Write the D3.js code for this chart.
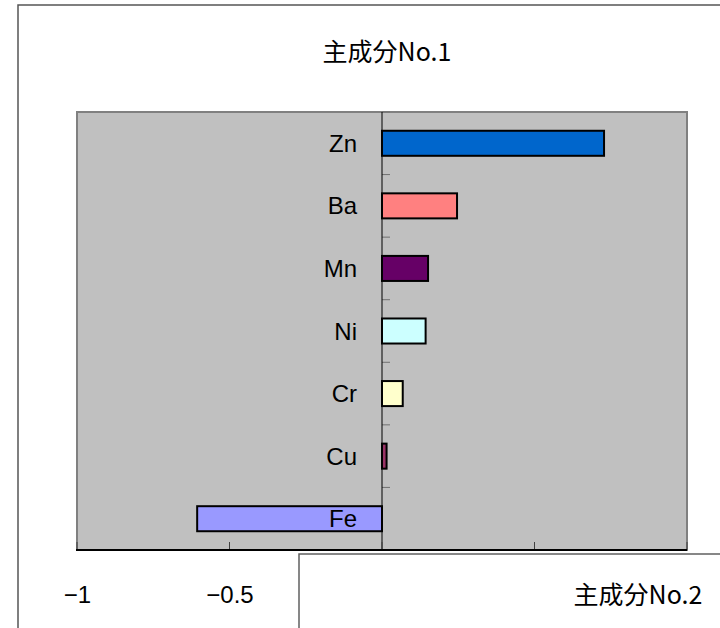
<!DOCTYPE html>
<html>
<head>
<meta charset="utf-8">
<script src="https://cdn.jsdelivr.net/npm/d3@7"></script>
<style>
  html, body { margin: 0; padding: 0; background: #ffffff; }
  svg { display: block; }
</style>
</head>
<body>
<div id="chart"></div>
<script>
// Principal component loadings per element
const elements = ["Zn", "Ba", "Mn", "Ni", "Cr", "Cu", "Fe"];
const loadings = [0.728, 0.246, 0.151, 0.143, 0.068, 0.015, -0.606];
const barColors = ["#0066CC", "#FF8080", "#660066", "#CCFFFF", "#FFFFCC", "#993366", "#9999FF"];
const xTicks = [-1, -0.5, 0, 0.5, 1];
const xTickLabels = ["\u22121", "\u22120.5", "0", "0.5", "1"];
const titleText = "主成分No.1";
const nextTitleText = "主成分No.2";

const W = 720, H = 628;
const plot = { left: 77, right: 687, top: 112, bottom: 550 };
// Neighbouring chart frame that covers the lower right corner
const overlay = { x: 299, y: 554 };

const svg = d3.select("#chart").append("svg")
  .attr("width", W).attr("height", H);

// Outer chart frame
svg.append("rect")
  .attr("x", 18).attr("y", 5)
  .attr("width", W + 20).attr("height", H + 20)
  .attr("fill", "#ffffff")
  .attr("stroke", "#555555").attr("stroke-width", 1.5);

// Chart title
svg.append("text")
  .attr("x", 387).attr("y", 61)
  .attr("text-anchor", "middle")
  .attr("font-family", "'Noto Sans CJK JP', sans-serif")
  .attr("font-size", 25)
  .attr("fill", "#000")
  .text(titleText);

const x = d3.scaleLinear().domain([-1, 1]).range([plot.left, plot.right]);
const y = d3.scaleBand().domain(elements)
  .range([plot.top, plot.bottom])
  .paddingInner(0.6).paddingOuter(0.3);

// Plot area
svg.append("rect")
  .attr("x", plot.left).attr("y", plot.top)
  .attr("width", plot.right - plot.left).attr("height", plot.bottom - plot.top)
  .attr("fill", "#C0C0C0")
  .attr("stroke", "#808080").attr("stroke-width", 2);

// Bars
svg.append("g").selectAll("rect")
  .data(elements)
  .join("rect")
  .attr("x", (d, i) => x(Math.min(0, loadings[i])))
  .attr("y", d => y(d))
  .attr("width", (d, i) => Math.abs(x(loadings[i]) - x(0)))
  .attr("height", y.bandwidth())
  .attr("fill", (d, i) => barColors[i])
  .attr("stroke", "#000").attr("stroke-width", 2);

// Category axis on the zero line: separator ticks between categories
const step = y.step();
const sepY = d3.range(elements.length + 1).map(i => plot.top + i * step);
svg.append("g").selectAll("line")
  .data(sepY)
  .join("line")
  .attr("x1", x(0)).attr("x2", x(0) + 8)
  .attr("y1", d => d).attr("y2", d => d)
  .attr("stroke", "#707070").attr("stroke-width", 1);

svg.append("line")
  .attr("x1", x(0)).attr("x2", x(0))
  .attr("y1", plot.top).attr("y2", plot.bottom)
  .attr("stroke", "#000").attr("stroke-width", 1);

// Category labels
svg.append("g").selectAll("text")
  .data(elements)
  .join("text")
  .attr("x", x(0) - 25)
  .attr("y", d => y(d) + y.bandwidth() / 2)
  .attr("dy", "0.36em")
  .attr("text-anchor", "end")
  .attr("font-family", "'Liberation Sans', Arial, sans-serif")
  .attr("font-size", 24)
  .attr("fill", "#000")
  .text(d => d);

// Value axis along the bottom; labels under the neighbouring frame are not shown
const xAxis = d3.axisBottom(x)
  .tickValues(xTicks.filter(d => x(d) < overlay.x))
  .tickSize(0)
  .tickFormat(d => xTickLabels[xTicks.indexOf(d)]);
const gx = svg.append("g")
  .attr("transform", `translate(0,${plot.bottom})`)
  .call(xAxis);
gx.select(".domain").remove();
gx.selectAll("text")
  .attr("y", 53)
  .attr("dy", 0)
  .attr("font-family", "'Liberation Sans', Arial, sans-serif")
  .attr("font-size", 24)
  .attr("fill", "#000");

svg.append("g").selectAll("line")
  .data(xTicks)
  .join("line")
  .attr("x1", d => x(d)).attr("x2", d => x(d))
  .attr("y1", plot.bottom).attr("y2", plot.bottom - 8)
  .attr("stroke", "#404040").attr("stroke-width", 1);

svg.append("line")
  .attr("x1", plot.left - 1).attr("x2", plot.right)
  .attr("y1", plot.bottom).attr("y2", plot.bottom)
  .attr("stroke", "#000").attr("stroke-width", 2);

// Neighbouring chart frame
svg.append("rect")
  .attr("x", overlay.x).attr("y", overlay.y)
  .attr("width", W).attr("height", H)
  .attr("fill", "#ffffff")
  .attr("stroke", "#606060").attr("stroke-width", 1.5);

svg.append("text")
  .attr("x", 638).attr("y", 604)
  .attr("text-anchor", "middle")
  .attr("font-family", "'Noto Sans CJK JP', sans-serif")
  .attr("font-size", 25)
  .attr("fill", "#000")
  .text(nextTitleText);
</script>
</body>
</html>
